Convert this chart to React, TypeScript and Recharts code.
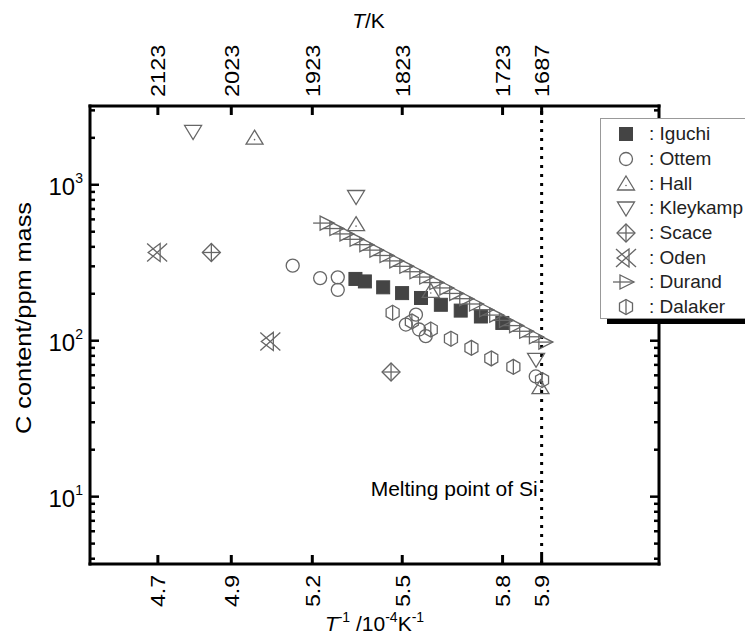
import React from 'react';
import { ScatterChart, Scatter, XAxis, YAxis, ReferenceLine, Legend, Label } from 'recharts';

const FONT = '"Liberation Sans", Arial, Helvetica, sans-serif';
const GRAY = '#666';
const DARK = '#444';

// Axis ticks: 10^4 / T for the listed temperatures
const tempTicksK = [2123, 2023, 1923, 1823, 1723, 1687];
const invTTicks = [4.7103, 4.9432, 5.2002, 5.4855, 5.8038, 5.9277];
const invTLabels = ['4.7', '4.9', '5.2', '5.5', '5.8', '5.9'];
const tempLabels = ['2123', '2023', '1923', '1823', '1723', '1687'];
const yMajor = [10, 100, 1000];
const yMinor = [4, 5, 6, 7, 8, 9, 20, 30, 40, 50, 60, 70, 80, 90, 200, 300, 400, 500, 600, 700, 800, 900, 2000, 3000];
const meltingInvT = 5.9277;

// Series (x = 10^4/T, y = C content ppm mass)
const iguchiX = [5.337, 5.367, 5.425, 5.485, 5.545, 5.608, 5.671, 5.735, 5.803];
const iguchiY = [249, 240, 220, 202, 188, 170, 156, 143, 130];
const ottemX = [5.138, 5.225, 5.281, 5.281, 5.529, 5.497, 5.539, 5.560, 5.909];
const ottemY = [303, 252, 255, 212, 147, 127, 118, 107, 59];
const hallX = [5.017, 5.339, 5.576, 5.924];
const hallY = [1990, 555, 207, 50];
const kleykampX = [4.822, 5.339, 5.910];
const kleykampY = [2197, 841, 76];
const scaceX = [4.880, 5.450];
const scaceY = [368, 63];
const odenX = [4.708, 5.067];
const odenY = [368, 99];
const durandX = [5.244, 5.275, 5.307, 5.339, 5.370, 5.402, 5.434, 5.465, 5.497, 5.529, 5.560, 5.592,
  5.624, 5.655, 5.687, 5.718, 5.750, 5.782, 5.813, 5.845, 5.877, 5.908, 5.938];
const durandY = [568, 524, 484, 447, 413, 381, 352, 325, 300, 277, 256, 236,
  218, 201, 186, 172, 158, 146, 135, 125, 115, 106, 98];
const dalakerX = [5.455, 5.516, 5.576, 5.640, 5.705, 5.768, 5.838, 5.929];
const dalakerY = [151, 133, 118, 103, 90, 77, 68, 56];

const zip = (xs: number[], ys: number[]) => xs.map((x, i) => ({ x, y: ys[i] }));

// Marker glyphs
const sw = 1.3;
const Square = ({ cx, cy }: any) => <rect x={cx - 6.5} y={cy - 6.5} width={13} height={13} fill={DARK} stroke={DARK} />;
const Circ = ({ cx, cy }: any) => <circle cx={cx} cy={cy} r={6.5} fill="none" stroke={GRAY} strokeWidth={sw} />;
const TriUp = ({ cx, cy }: any) => (
  <g>
    <polygon points={`${cx},${cy - 8} ${cx + 8.5},${cy + 6} ${cx - 8.5},${cy + 6}`} fill="none" stroke={GRAY} strokeWidth={sw} />
    <circle cx={cx} cy={cy + 1.5} r={0.8} fill={GRAY} />
  </g>
);
const TriDown = ({ cx, cy }: any) => (
  <polygon points={`${cx - 8.5},${cy - 6} ${cx + 8.5},${cy - 6} ${cx},${cy + 8}`} fill="none" stroke={GRAY} strokeWidth={sw} />
);
const DiamondCross = ({ cx, cy }: any) => (
  <g fill="none" stroke={GRAY} strokeWidth={sw}>
    <polygon points={`${cx},${cy - 9} ${cx + 9},${cy} ${cx},${cy + 9} ${cx - 9},${cy}`} />
    <line x1={cx - 9} y1={cy} x2={cx + 9} y2={cy} />
    <line x1={cx} y1={cy - 9} x2={cx} y2={cy + 9} />
  </g>
);
const OdenGlyph = ({ cx, cy }: any) => (
  <g fill="none" stroke={GRAY} strokeWidth={sw}>
    <line x1={cx - 10} y1={cy - 9} x2={cx + 10} y2={cy + 9} />
    <line x1={cx - 10} y1={cy + 9} x2={cx + 10} y2={cy - 9} />
    <polygon points={`${cx - 9},${cy} ${cx + 3},${cy - 9} ${cx + 3},${cy + 9}`} />
  </g>
);
const DurandGlyph = ({ cx, cy }: any) => (
  <g fill="none" stroke={GRAY} strokeWidth={sw}>
    <polygon points={`${cx - 6},${cy - 7} ${cx - 6},${cy + 7} ${cx + 8},${cy}`} />
    <line x1={cx - 13} y1={cy} x2={cx + 8} y2={cy} />
  </g>
);
const HexGlyph = ({ cx, cy }: any) => (
  <g fill="none" stroke={GRAY} strokeWidth={sw}>
    <polygon points={`${cx},${cy - 7.5} ${cx + 6.5},${cy - 3.75} ${cx + 6.5},${cy + 3.75} ${cx},${cy + 7.5} ${cx - 6.5},${cy + 3.75} ${cx - 6.5},${cy - 3.75}`} />
    <line x1={cx} y1={cy - 7.5} x2={cx} y2={cy + 7.5} />
  </g>
);

const seriesDefs = [
  { name: 'Iguchi', data: zip(iguchiX, iguchiY), Glyph: Square },
  { name: 'Ottem', data: zip(ottemX, ottemY), Glyph: Circ },
  { name: 'Hall', data: zip(hallX, hallY), Glyph: TriUp },
  { name: 'Kleykamp', data: zip(kleykampX, kleykampY), Glyph: TriDown },
  { name: 'Scace', data: zip(scaceX, scaceY), Glyph: DiamondCross },
  { name: 'Oden', data: zip(odenX, odenY), Glyph: OdenGlyph },
  { name: 'Durand', data: zip(durandX, durandY), Glyph: DurandGlyph },
  { name: 'Dalaker', data: zip(dalakerX, dalakerY), Glyph: HexGlyph },
];

const nearestIdx = (v: number) => {
  let best = 0;
  invTTicks.forEach((t, i) => { if (Math.abs(t - v) < Math.abs(invTTicks[best] - v)) best = i; });
  return best;
};

const BottomTick = ({ x, y, payload }: any) => {
  const i = nearestIdx(payload.value);
  return (
    <g>
      <line x1={x} y1={y} x2={x} y2={y - 9} stroke="#000" strokeWidth={3} />
      <g transform={`translate(${x},${y + 11}) rotate(-90) scale(1.1,1)`}>
        <text x={0} y={0} dy="0.36em" textAnchor="end" fontSize={21} fontFamily={FONT} fill="#000">{invTLabels[i]}</text>
      </g>
    </g>
  );
};

const TopTick = ({ x, y, payload }: any) => {
  const i = nearestIdx(payload.value);
  return (
    <g>
      <line x1={x} y1={y} x2={x} y2={y + 9} stroke="#000" strokeWidth={3} />
      <g transform={`translate(${x},${y - 9}) rotate(-90) scale(1.12,1)`}>
        <text x={0} y={0} dy="0.36em" textAnchor="start" fontSize={21} fontFamily={FONT} fill="#000">{tempLabels[i]}</text>
      </g>
    </g>
  );
};

const LeftTick = ({ x, y, payload }: any) => {
  const v = payload.value;
  const major = yMajor.includes(v);
  const exp = Math.round(Math.log10(v));
  return (
    <g>
      <line x1={x} y1={y} x2={x + (major ? 9 : 5)} y2={y} stroke="#000" strokeWidth={2.5} />
      {major && (
        <text x={x - 7} y={y + 10} textAnchor="end" fontFamily={FONT} fontSize={24} fill="#000">
          10<tspan dy={-12} fontSize={14}>{exp}</tspan>
        </text>
      )}
    </g>
  );
};

const RightTick = ({ x, y, payload }: any) => {
  const major = yMajor.includes(payload.value);
  return <line x1={x} y1={y} x2={x - (major ? 9 : 5)} y2={y} stroke="#000" strokeWidth={2.5} />;
};

const BottomTitle = ({ viewBox }: any) => {
  const cx = viewBox.x + viewBox.width / 2;
  return (
    <text x={cx} y={631} textAnchor="middle" fontFamily={FONT} fontSize={21} fill="#000">
      <tspan fontStyle="italic">T</tspan>
      <tspan dy={-9} fontSize={14}>-1</tspan>
      <tspan dy={9}> /10</tspan>
      <tspan dy={-9} fontSize={14}>-4</tspan>
      <tspan dy={9}>K</tspan>
      <tspan dy={-9} fontSize={14}>-1</tspan>
    </text>
  );
};

const TopTitle = ({ viewBox }: any) => {
  const cx = viewBox.x + viewBox.width / 2 - 6;
  return (
    <text x={cx} y={28} textAnchor="middle" fontFamily={FONT} fontSize={21} fill="#000">
      <tspan fontStyle="italic">T</tspan>/K
    </text>
  );
};

const LeftTitle = ({ viewBox }: any) => (
  <g transform={`translate(31,318) rotate(-90) scale(1.15,1)`}>
    <text x={0} y={0} textAnchor="middle" fontFamily={FONT} fontSize={22} fill="#000">C content/ppm mass</text>
  </g>
);

const MeltLabel = ({ viewBox }: any) => (
  <text x={viewBox.x - 4} y={viewBox.y + viewBox.height - 68} textAnchor="end" fontFamily={FONT} fontSize={21} fill="#000">
    Melting point of Si
  </text>
);

const LegendBox = () => (
  <div style={{
    width: 170, height: 201, boxSizing: 'border-box', background: '#fff', border: '1px solid #999',
    boxShadow: '7px 5px 0 0 #000', paddingTop: 3, fontFamily: FONT, fontSize: 19, color: '#222',
  }}>
    {seriesDefs.map(({ name, Glyph }) => (
      <div key={name} style={{ height: 24.7, display: 'flex', alignItems: 'center' }}>
        <svg width={26} height={24} style={{ marginLeft: 12, overflow: 'visible' }}>
          <Glyph cx={13} cy={12} />
        </svg>
        <span style={{ marginLeft: 10, whiteSpace: 'nowrap' }}>: {name}</span>
      </div>
    ))}
  </div>
);

const axisLine = { stroke: '#000', strokeWidth: 3, strokeLinecap: 'square' as const };
const yTicks = [...yMinor, ...yMajor].sort((a, b) => a - b);

export default function App() {
  return (
    <div style={{ position: 'absolute', left: 0, top: 0, width: 745, height: 638, overflow: 'hidden', background: '#fff' }}>
      <ScatterChart width={745} height={638} margin={{ top: 105, right: 85, bottom: 73, left: 89 }}>
        <XAxis xAxisId="bottom" type="number" dataKey="x" domain={[4.495, 6.3]} allowDataOverflow
          ticks={invTTicks} interval={0} height={1} tickSize={0} tickMargin={0}
          axisLine={axisLine} tickLine={false} tick={<BottomTick />}>
          <Label content={<BottomTitle />} />
        </XAxis>
        <XAxis xAxisId="top" orientation="top" type="number" dataKey="x" domain={[4.495, 6.3]} allowDataOverflow
          ticks={invTTicks} interval={0} height={1} tickSize={0} tickMargin={0}
          axisLine={axisLine} tickLine={false} tick={<TopTick />}>
          <Label content={<TopTitle />} />
        </XAxis>
        <YAxis yAxisId="left" type="number" dataKey="y" scale="log" domain={[3.7, 3200]} allowDataOverflow
          ticks={yTicks} interval={0} width={1} tickSize={0} tickMargin={0}
          axisLine={axisLine} tickLine={false} tick={<LeftTick />}>
          <Label content={<LeftTitle />} />
        </YAxis>
        <YAxis yAxisId="right" orientation="right" type="number" dataKey="y" scale="log" domain={[3.7, 3200]} allowDataOverflow
          ticks={yTicks} interval={0} width={1} tickSize={0} tickMargin={0}
          axisLine={axisLine} tickLine={false} tick={<RightTick />} />
        <ReferenceLine xAxisId="bottom" yAxisId="left" x={meltingInvT} stroke="#000" strokeWidth={3}
          strokeDasharray="3 6" label={<MeltLabel />} />
        {seriesDefs.map(({ name, data, Glyph }) => (
          <Scatter key={name} name={name} data={data} xAxisId="bottom" yAxisId="left"
            shape={(p: any) => <Glyph cx={p.cx} cy={p.cy} />} isAnimationActive={false} />
        ))}
        <Legend layout="vertical" align="center" verticalAlign="middle" content={<LegendBox />}
          wrapperStyle={{ position: 'absolute', left: 600, top: 118, width: 170, height: 201 }} />
      </ScatterChart>
    </div>
  );
}
